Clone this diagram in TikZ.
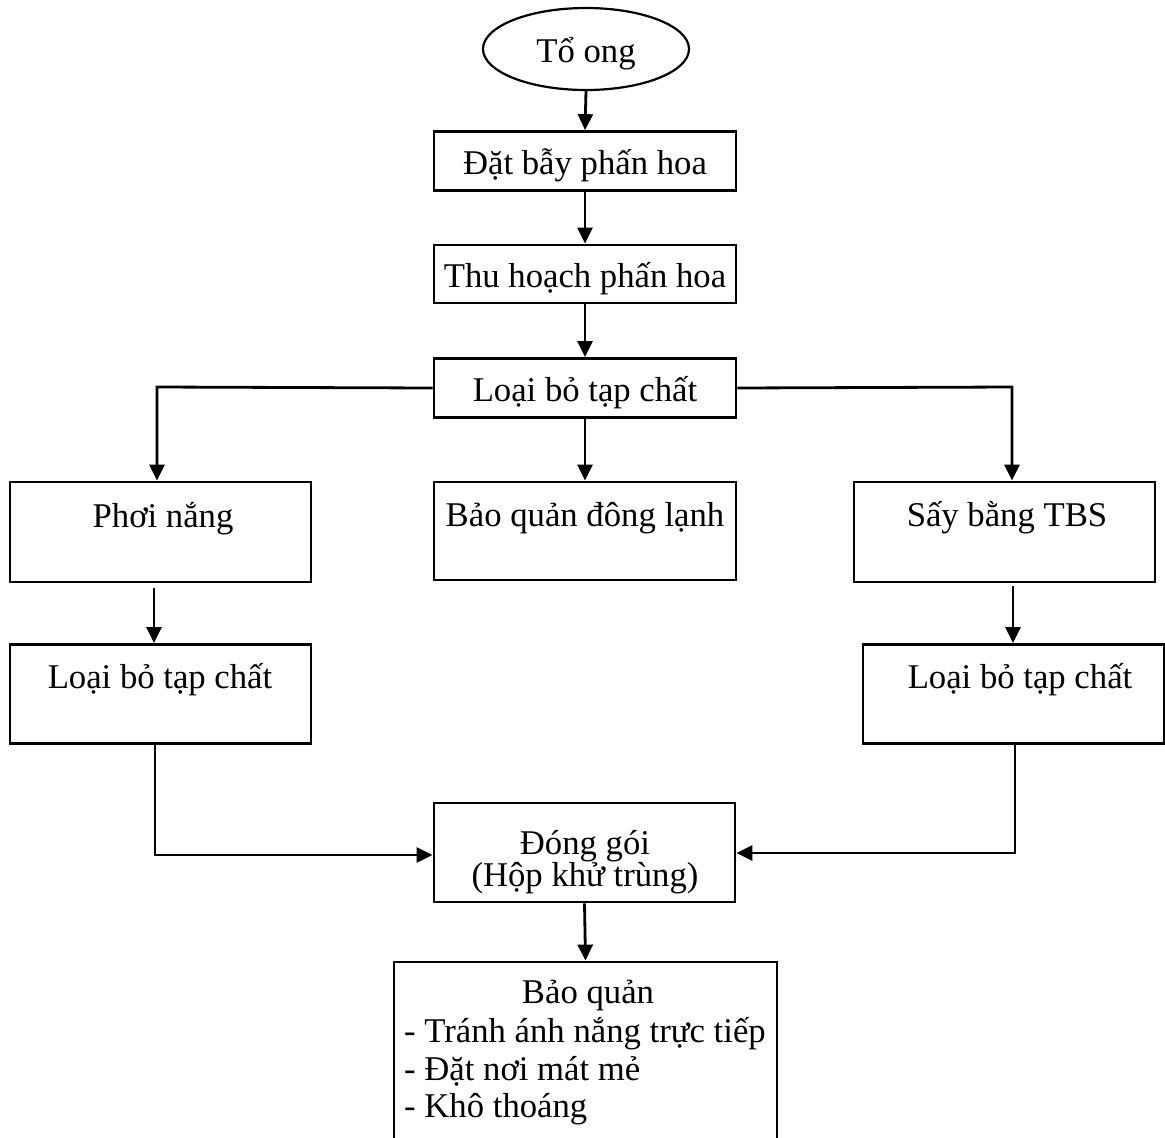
\documentclass[tikz,border=0pt]{standalone}
\usepackage{fontspec}
\setmainfont{Liberation Serif}
\usetikzlibrary{arrows.meta,shapes.geometric}
\tikzset{
  box/.style={draw, line width=2.8pt, rectangle, inner sep=0pt},
  lbl/.style={anchor=base, inner sep=0pt, font=\fontsize{34.7}{38}\selectfont},
  lbll/.style={anchor=base west, inner sep=0pt, font=\fontsize{34.7}{38}\selectfont},
  arr/.style={line width=2.8pt, -{Triangle[length=16pt,width=15pt]}},
}
\begin{document}
\begin{tikzpicture}[x=1pt,y=-1pt]
\useasboundingbox (0,0) rectangle (1165,1138);
\clip (0,0) rectangle (1165,1138);

% main column
\node[draw, ellipse, line width=2.2pt, minimum width=206pt, minimum height=82pt, inner sep=0pt] (to) at (586,49) {};
\node[lbl] (tot) at (586,62) {Tổ ong};

\node[box, minimum width=302pt, minimum height=59pt] (dat) at (585,161) {};
\node[lbl] (datt) at (585,174) {Đặt bẫy phấn hoa};

\node[box, minimum width=302pt, minimum height=58pt] (thu) at (585,274) {};
\node[lbl] (thut) at (585,287) {Thu hoạch phấn hoa};

\node[box, minimum width=302pt, minimum height=59pt] (loai) at (585,388) {};
\node[lbl] (loait) at (585,401) {Loại bỏ tạp chất};

% three branches
\node[box, minimum width=301pt, minimum height=100pt] (phoi) at (160.5,532) {};
\node[lbl] (phoit) at (163,527) {Phơi nắng};

\node[box, minimum width=302pt, minimum height=98pt] (bqdl) at (585,531) {};
\node[lbl] (bqdlt) at (585,526) {Bảo quản đông lạnh};

\node[box, minimum width=301pt, minimum height=100pt] (say) at (1004.5,532) {};
\node[lbl] (sayt) at (1007,526) {Sấy bằng TBS};

\node[box, minimum width=301pt, minimum height=99pt] (loai1) at (160.5,694) {};
\node[lbl] (loai1t) at (160,688) {Loại bỏ tạp chất};

\node[box, minimum width=301pt, minimum height=99pt] (loai2) at (1013.5,694) {};
\node[lbl] (loai2t) at (1020,688) {Loại bỏ tạp chất};

% packing and storage
\node[box, minimum width=301pt, minimum height=99pt] (dong) at (584.5,852.5) {};
\node[lbl] (dongt1) at (585,854) {Đóng gói};
\node[lbl] (dongt2) at (585,886) {(Hộp khử trùng)};

\node[box, minimum width=383pt, minimum height=188pt] (bq) at (585.5,1056) {};
\node[lbl] (bqt) at (588,1003) {Bảo quản};
\node[lbll] (bq1) at (404,1042) {- Tránh ánh nắng trực tiếp};
\node[lbll] (bq2) at (404,1080) {- Đặt nơi mát mẻ};
\node[lbll] (bq3) at (404,1117) {- Khô thoáng};

% connectors
\draw[arr] (to.south) -- (dat.north);
\draw[arr] (dat.south) -- (thu.north);
\draw[arr] (thu.south) -- (loai.north);

\coordinate (bl) at (157,387);
\coordinate (br) at (1012,387);
\draw[arr] (loai.west) -- (bl) -- (bl |- phoi.north);
\draw[arr] (loai.east) -- (br) -- (br |- say.north);
\draw[arr] (loai.south) -- (bqdl.north);

\coordinate (pl) at (154,0);
\coordinate (pr) at (1013,0);
\draw[arr, shorten <=5pt] (phoi.south -| pl) -- (loai1.north -| pl);
\draw[arr, shorten <=3pt] (say.south -| pr) -- (loai2.north -| pr);

\coordinate (cl) at (155,855);
\coordinate (cr) at (1015,853);
\draw[arr] (loai1.south -| cl) -- (cl) -- (dong.west |- cl);
\draw[arr] (loai2.south -| cr) -- (cr) -- (dong.east |- cr);
\draw[arr] (dong.south) -- (bq.north);
\end{tikzpicture}
\end{document}
